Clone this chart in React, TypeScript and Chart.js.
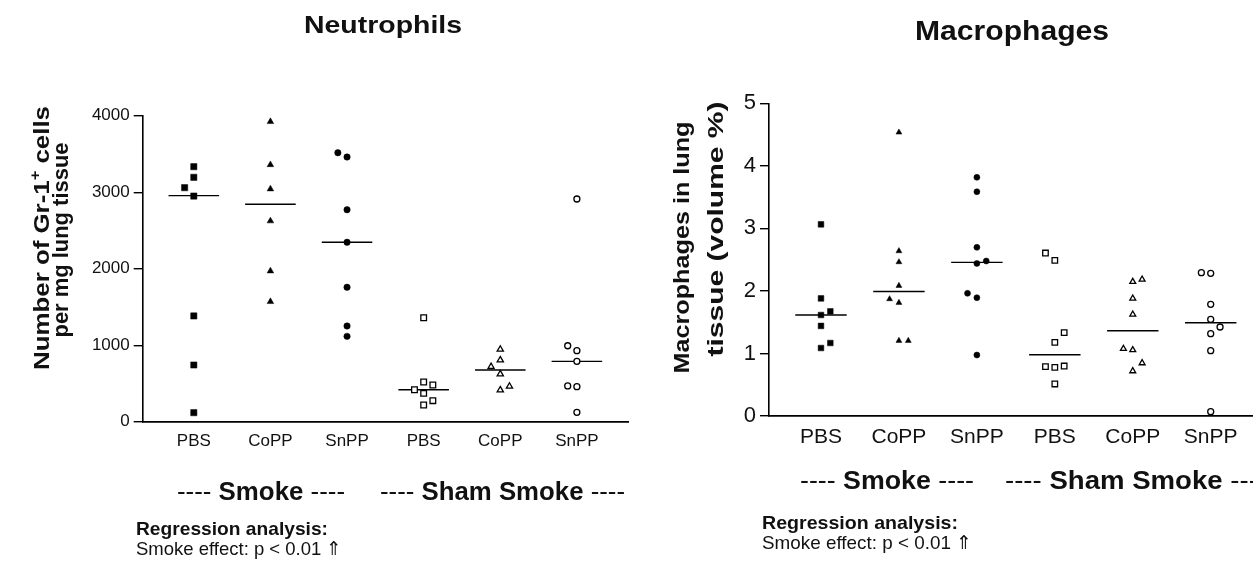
import React, { useEffect, useRef } from 'react';
import { Chart, registerables } from 'chart.js';

Chart.register(...registerables);

// ---------- data ----------
const groups = ['PBS', 'CoPP', 'SnPP', 'PBS', 'CoPP', 'SnPP'];
const neutroTicks = [0, 1000, 2000, 3000, 4000];
const macroTicks = [0, 1, 2, 3, 4, 5];

// Neutrophils (Gr-1+ cells per mg lung tissue)
const neuSmokePBS = [3333, 3195, 3059, 2950, 1382, 741, 118];
const neuSmokeCoPP = [3922, 3359, 3042, 2624, 1970, 1569];
const neuSmokeSnPP = [3516, 3460, 2771, 2345, 1757, 1251, 1116];
const neuShamPBS = [1359, 519, 480, 418, 371, 275, 218];
const neuShamCoPP = [946, 806, 719, 623, 462, 414];
const neuShamSnPP = [2911, 993, 928, 789, 467, 458, 123];
const neuMedians = [2955, 2842, 2345, 418, 676, 789];
// column slot of each point inside its group (scatter jitter)
const neuSmokePBSCol = [0, 0, -1, 0, 0, 0, 0];
const neuSmokeCoPPCol = [0, 0, 0, 0, 0, 0];
const neuSmokeSnPPCol = [-1, 0, 0, 0, 0, 0, 0];
const neuShamPBSCol = [0, 0, 1, -1, 0, 1, 0];
const neuShamCoPPCol = [0, 0, -1, 0, 1, 0];
const neuShamSnPPCol = [0, -1, 0, 0, -1, 0, 0];

// Macrophages (volume %)
const macSmokePBS = [3.065, 1.88, 1.673, 1.615, 1.44, 1.167, 1.087];
const macSmokeCoPP = [4.535, 2.638, 2.462, 2.083, 1.87, 1.812, 1.204, 1.204];
const macSmokeSnPP = [3.816, 3.586, 2.697, 2.478, 2.44, 1.961, 1.892, 0.975];
const macShamPBS = [2.606, 2.489, 1.332, 1.178, 0.799, 0.789, 0.778, 0.512];
const macShamCoPP = [2.185, 2.147, 1.88, 1.625, 1.077, 1.055, 0.847, 0.719];
const macShamSnPP = [2.291, 2.281, 1.785, 1.545, 1.423, 1.316, 1.044, 0.069];
const macMedians = [1.615, 1.99, 2.457, 0.98, 1.364, 1.49];
const macSmokePBSCol = [0, 0, 1, 0, 0, 1, 0];
const macSmokeCoPPCol = [0, 0, 0, 0, -1, 0, 0, 1];
const macSmokeSnPPCol = [0, 0, 0, 1, 0, -1, 0, 0];
const macShamPBSCol = [-1, 0, 1, 0, 1, -1, 0, 0];
const macShamCoPPCol = [1, 0, 0, 0, -1, 0, 1, 0];
const macShamSnPPCol = [-1, 0, 0, 0, 1, 0, 0, 0];

// ---------- helpers ----------
const FAMILY = '"Liberation Sans", Arial, Helvetica, sans-serif';
const COL_STEP = 0.12; // category units between jitter columns
const HALF_LINE = 0.33; // half-length of median bar in category units

type Seg = { t: string; w?: string; s?: number; dy?: number };
type TextItem = {
  segs: Seg[];
  x: number;
  y: number;
  size: number;
  bold?: boolean;
  align?: 'left' | 'center';
  rot?: number;
  fit?: number;
};

function drawItem(ctx: CanvasRenderingContext2D, it: TextItem) {
  ctx.save();
  ctx.translate(it.x, it.y);
  if (it.rot) ctx.rotate(it.rot);
  const fonts = it.segs.map(
    (s) => `${s.w ?? (it.bold ? 'bold' : 'normal')} ${s.s ?? it.size}px ${FAMILY}`
  );
  const ws: number[] = [];
  let total = 0;
  it.segs.forEach((s, i) => {
    ctx.font = fonts[i];
    const w = ctx.measureText(s.t).width;
    ws.push(w);
    total += w;
  });
  const sx = it.fit ? it.fit / total : 1;
  ctx.scale(sx, 1);
  let cx = it.align === 'center' ? -total / 2 : 0;
  ctx.fillStyle = '#111';
  ctx.textAlign = 'left';
  ctx.textBaseline = 'alphabetic';
  it.segs.forEach((s, i) => {
    ctx.font = fonts[i];
    ctx.fillText(s.t, cx, s.dy ?? 0);
    cx += ws[i];
  });
  ctx.restore();
}

const textPlugin = {
  id: 'texts',
  afterDraw(chart: any, _args: any, opts: any) {
    const items: TextItem[] = (opts && opts.items) || [];
    items.forEach((it) => drawItem(chart.ctx, it));
  },
};

function pts(values: number[], cols: number[], g: number) {
  return values.map((v, i) => ({ x: g + cols[i] * COL_STEP, y: v }));
}

type Panel = {
  series: { values: number[]; cols: number[]; style: string; filled: boolean; r: number }[];
  medians: number[];
  ticks: number[];
  yMax: number;
  yWidth: number;
  xHeight: number;
  pad: { left: number; top: number; right: number; bottom: number };
  tickFont: number;
  xFont: number;
  xPad: number;
  texts: TextItem[];
};

function buildConfig(p: Panel): any {
  const datasets: any[] = [];
  p.series.forEach((s, g) => {
    datasets.push({
      type: 'scatter',
      data: pts(s.values, s.cols, g),
      pointStyle: s.style,
      pointRadius: s.r,
      pointBackgroundColor: s.filled ? '#000' : '#fff',
      pointBorderColor: '#000',
      pointBorderWidth: s.filled ? 0.5 : 1.3,
      showLine: false,
      order: 1,
    });
  });
  p.medians.forEach((m, g) => {
    datasets.push({
      type: 'line',
      data: [
        { x: g - HALF_LINE, y: m },
        { x: g + HALF_LINE, y: m },
      ],
      borderColor: '#000',
      borderWidth: 1.4,
      pointRadius: 0,
      fill: false,
      order: 2,
    });
  });
  return {
    type: 'scatter',
    data: { datasets },
    plugins: [textPlugin],
    options: {
      animation: false,
      responsive: false,
      events: [],
      layout: { padding: p.pad },
      plugins: {
        legend: { display: false },
        tooltip: { enabled: false },
        texts: { items: p.texts },
      },
      scales: {
        x: {
          type: 'linear',
          min: -0.667,
          max: 5.667,
          afterBuildTicks: (scale: any) => {
            scale.ticks = groups.map((_, i) => ({ value: i }));
          },
          afterFit: (scale: any) => {
            scale.height = p.xHeight;
          },
          ticks: {
            autoSkip: false,
            maxRotation: 0,
            padding: p.xPad,
            color: '#111',
            font: { family: FAMILY, size: p.xFont },
            callback: (v: any) => groups[v] ?? '',
          },
          grid: { display: false, drawTicks: false },
          border: { display: true, color: '#000', width: 1.8 },
        },
        y: {
          type: 'linear',
          min: 0,
          max: p.yMax,
          afterBuildTicks: (scale: any) => {
            scale.ticks = p.ticks.map((v) => ({ value: v }));
          },
          afterFit: (scale: any) => {
            scale.width = p.yWidth;
          },
          ticks: {
            padding: 4,
            color: '#111',
            font: { family: FAMILY, size: p.tickFont },
            callback: (v: any) => String(v),
          },
          grid: {
            drawOnChartArea: false,
            drawTicks: true,
            tickLength: 9,
            color: '#000',
            lineWidth: 1.4,
          },
          border: { display: true, color: '#000', width: 1.6 },
        },
      },
    },
  };
}

const neutroPanel: Panel = {
  series: [
    { values: neuSmokePBS, cols: neuSmokePBSCol, style: 'rect', filled: true, r: 4.4 },
    { values: neuSmokeCoPP, cols: neuSmokeCoPPCol, style: 'triangle', filled: true, r: 3.8 },
    { values: neuSmokeSnPP, cols: neuSmokeSnPPCol, style: 'circle', filled: true, r: 3.2 },
    { values: neuShamPBS, cols: neuShamPBSCol, style: 'rect', filled: false, r: 4.0 },
    { values: neuShamCoPP, cols: neuShamCoPPCol, style: 'triangle', filled: false, r: 3.6 },
    { values: neuShamSnPP, cols: neuShamSnPPCol, style: 'circle', filled: false, r: 3.0 },
  ],
  medians: neuMedians,
  ticks: neutroTicks,
  yMax: 4000,
  yWidth: 142.7,
  xHeight: 147.3,
  pad: { left: 0, top: 115.7, right: 12, bottom: 0 },
  tickFont: 17,
  xFont: 17,
  xPad: 9,
  texts: [
    { segs: [{ t: 'Neutrophils' }], x: 383, y: 33, size: 24, bold: true, align: 'center', fit: 158 },
    {
      segs: [{ t: 'Number of Gr-1' }, { t: '+', s: 14, dy: -9 }, { t: ' cells' }],
      x: 49, y: 238, size: 22, bold: true, align: 'center', rot: -Math.PI / 2, fit: 264,
    },
    { segs: [{ t: 'per mg lung tissue' }], x: 68, y: 240, size: 22, bold: true, align: 'center', rot: -Math.PI / 2, fit: 195 },
    {
      segs: [{ t: '---- ' }, { t: 'Smoke', w: 'bold' }, { t: ' ----' }],
      x: 177, y: 500, size: 25, align: 'left', fit: 168,
    },
    {
      segs: [{ t: '---- ' }, { t: 'Sham Smoke', w: 'bold' }, { t: ' ----' }],
      x: 380, y: 500, size: 25, align: 'left', fit: 245,
    },
    { segs: [{ t: 'Regression analysis:' }], x: 136, y: 535, size: 19, bold: true, align: 'left', fit: 192 },
    { segs: [{ t: 'Smoke effect: p < 0.01 \u21D1' }], x: 136, y: 555, size: 19, align: 'left', fit: 206 },
  ],
};

const RX = 640; // left of right canvas in page coordinates
const macroPanel: Panel = {
  series: [
    { values: macSmokePBS, cols: macSmokePBSCol, style: 'rect', filled: true, r: 4.0 },
    { values: macSmokeCoPP, cols: macSmokeCoPPCol, style: 'triangle', filled: true, r: 3.4 },
    { values: macSmokeSnPP, cols: macSmokeSnPPCol, style: 'circle', filled: true, r: 3.0 },
    { values: macShamPBS, cols: macShamPBSCol, style: 'rect', filled: false, r: 3.9 },
    { values: macShamCoPP, cols: macShamCoPPCol, style: 'triangle', filled: false, r: 3.4 },
    { values: macShamSnPP, cols: macShamSnPPCol, style: 'circle', filled: false, r: 3.0 },
  ],
  medians: macMedians,
  ticks: macroTicks,
  yMax: 5,
  yWidth: 129,
  xHeight: 153,
  pad: { left: 0, top: 103.3, right: 17.3, bottom: 0 },
  tickFont: 22,
  xFont: 21,
  xPad: 9,
  texts: [
    { segs: [{ t: 'Macrophages' }], x: 1012 - RX, y: 40, size: 27, bold: true, align: 'center', fit: 194 },
    { segs: [{ t: 'Macrophages in lung' }], x: 689 - RX, y: 247.5, size: 22, bold: true, align: 'center', rot: -Math.PI / 2, fit: 252 },
    { segs: [{ t: 'tissue (volume %)' }], x: 722.5 - RX, y: 229, size: 22, bold: true, align: 'center', rot: -Math.PI / 2, fit: 255 },
    {
      segs: [{ t: '---- ' }, { t: 'Smoke', w: 'bold' }, { t: ' ----' }],
      x: 800 - RX, y: 489, size: 26, align: 'left', fit: 174,
    },
    {
      segs: [{ t: '---- ' }, { t: 'Sham Smoke', w: 'bold' }, { t: ' ----' }],
      x: 1005 - RX, y: 489, size: 26, align: 'left', fit: 262,
    },
    { segs: [{ t: 'Regression analysis:' }], x: 762 - RX, y: 529, size: 19, bold: true, align: 'left', fit: 196 },
    { segs: [{ t: 'Smoke effect: p < 0.01 \u21D1' }], x: 762 - RX, y: 549, size: 19, align: 'left', fit: 210 },
  ],
};

function ChartCanvas({ panel, left }: { panel: Panel; left: number }) {
  const ref = useRef<HTMLCanvasElement | null>(null);
  useEffect(() => {
    if (!ref.current) return;
    const chart = new Chart(ref.current, buildConfig(panel));
    return () => chart.destroy();
  }, [panel]);
  return (
    <canvas
      ref={ref}
      width={640}
      height={569}
      style={{ position: 'absolute', left, top: 0, width: 640, height: 569 }}
    />
  );
}

export default function App() {
  return (
    <div
      style={{
        position: 'absolute',
        left: 0,
        top: 0,
        width: 1253,
        height: 569,
        overflow: 'hidden',
        background: '#fff',
      }}
    >
      <ChartCanvas panel={neutroPanel} left={0} />
      <ChartCanvas panel={macroPanel} left={RX} />
    </div>
  );
}
